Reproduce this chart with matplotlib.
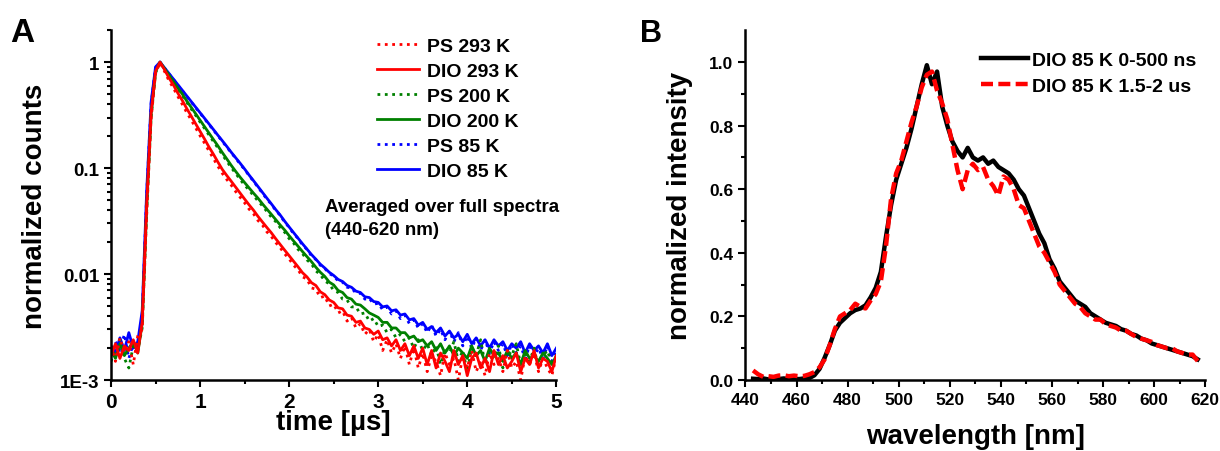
import numpy as np
import matplotlib.pyplot as plt

plt.rcParams['font.family'] = ['Liberation Sans', 'DejaVu Sans']
plt.rcParams['font.weight'] = 'bold'

# ---- panel A: decay traces, sampled every 0.05 us from 0 to 5 us
time_us = np.round(np.arange(0, 5.0001, 0.05), 2)

dio_293 = [0.0017, 0.0022, 0.0016, 0.0021, 0.0019, 0.0024, 0.0018,
           0.0035, 0.045, 0.33, 0.82, 1.0, 0.85, 0.71, 0.61, 0.51, 0.435, 0.365, 0.31, 0.262,
           0.222, 0.188, 0.158, 0.135, 0.114, 0.097, 0.085, 0.075, 0.066, 0.058,
           0.051, 0.045, 0.040, 0.035, 0.031, 0.0275, 0.0245, 0.0215, 0.019, 0.0168,
           0.0149, 0.0132, 0.0117, 0.0103, 0.0094, 0.0083, 0.0078, 0.0068, 0.0064, 0.0057,
           0.0054, 0.0048, 0.0047, 0.0041, 0.0040, 0.0035, 0.0036, 0.0031, 0.0030, 0.0027,
           0.0029, 0.0024, 0.0025, 0.0021, 0.0024, 0.0019, 0.0022, 0.0017, 0.0021, 0.0016,
           0.0020,
           0.0014, 0.0019, 0.0013, 0.0018, 0.0015, 0.0012, 0.0019, 0.0014, 0.0017, 0.0011,
           0.0016, 0.0018, 0.0013, 0.0016, 0.0012, 0.0019, 0.0014, 0.0017, 0.0013, 0.0015,
           0.0018, 0.0012, 0.0016, 0.0014, 0.0019, 0.0013, 0.0016, 0.0015, 0.0012, 0.0017]

ps_293 = [0.0021, 0.0015, 0.0025, 0.0018, 0.0023, 0.0014, 0.0026,
          0.003, 0.035, 0.29, 0.78, 0.99, 0.82, 0.67, 0.57, 0.475, 0.40, 0.335, 0.285, 0.24,
          0.202, 0.172, 0.145, 0.123, 0.104, 0.089, 0.078, 0.069, 0.060, 0.053,
          0.047, 0.041, 0.037, 0.032, 0.029, 0.025, 0.0226, 0.0198, 0.0177, 0.0155,
          0.0139, 0.0121, 0.0110, 0.0094, 0.0090, 0.0074, 0.0072, 0.0060, 0.0062, 0.0050,
          0.0052, 0.0043, 0.0045, 0.0036, 0.0039, 0.0031, 0.0034, 0.0027, 0.0030, 0.0023,
          0.0027, 0.0019, 0.0024, 0.0018, 0.0022, 0.0016, 0.0021, 0.0014, 0.0020, 0.0013,
          0.0018,
          0.0012, 0.0017, 0.0015, 0.0011, 0.0018, 0.0014, 0.0016, 0.0010, 0.0017, 0.0013,
          0.0019, 0.0012, 0.0015, 0.0011, 0.0018, 0.0014, 0.0016, 0.0012, 0.0019, 0.0013,
          0.0015, 0.0010, 0.0017, 0.0014, 0.0018, 0.0012, 0.0016, 0.0013, 0.0011, 0.0017]

dio_200 = [0.0019, 0.0016, 0.0022, 0.0017, 0.0020, 0.0023, 0.0018,
           0.0034, 0.042, 0.32, 0.81, 1.0, 0.87, 0.755, 0.656, 0.57, 0.50, 0.43, 0.375, 0.326,
           0.283, 0.246, 0.214, 0.186, 0.162, 0.140, 0.122, 0.106, 0.093, 0.082,
           0.073, 0.065, 0.058, 0.052, 0.046, 0.041, 0.0366, 0.0326, 0.029, 0.026,
           0.023, 0.0205, 0.0183, 0.0163, 0.0146, 0.0131, 0.0116, 0.0104, 0.0095, 0.0084,
           0.0079, 0.0070, 0.0067, 0.0060, 0.0058, 0.0052, 0.0051, 0.0047, 0.0043, 0.0041,
           0.0039, 0.0035, 0.0035, 0.0031, 0.0031, 0.0028, 0.0028, 0.0025, 0.0026, 0.0023,
           0.0024,
           0.0021, 0.0023, 0.0019, 0.0022, 0.0018, 0.0021, 0.0017, 0.0020, 0.0018, 0.0016,
           0.0021, 0.0017, 0.0019, 0.0015, 0.0020, 0.0017, 0.0018, 0.0015, 0.0019, 0.0016,
           0.0018, 0.0014, 0.0019, 0.0016, 0.0017, 0.0015, 0.0018, 0.0016, 0.0014, 0.0017]

ps_200 = [0.0015, 0.0020, 0.0024, 0.0016, 0.0013, 0.0021, 0.0019,
          0.0031, 0.038, 0.30, 0.79, 0.99, 0.86, 0.74, 0.64, 0.555, 0.485, 0.418, 0.362, 0.315,
          0.272, 0.237, 0.205, 0.178, 0.155, 0.134, 0.116, 0.101, 0.089, 0.078,
          0.069, 0.062, 0.055, 0.049, 0.044, 0.039, 0.0345, 0.0312, 0.0274, 0.0248,
          0.0216, 0.0196, 0.0171, 0.0156, 0.0136, 0.0125, 0.0107, 0.0099, 0.0086, 0.0081,
          0.0070, 0.0067, 0.0058, 0.0057, 0.0049, 0.0049, 0.0042, 0.0043, 0.0036, 0.0038,
          0.0032, 0.0033, 0.0028, 0.0030, 0.0025, 0.0027, 0.0023, 0.0025, 0.0020, 0.0024,
          0.0019,
          0.0022, 0.0017, 0.0021, 0.0014, 0.0020, 0.0018, 0.0023, 0.0015, 0.0019, 0.0012,
          0.0020, 0.0017, 0.0024, 0.0014, 0.0018, 0.0016, 0.0021, 0.0013, 0.0019, 0.0017,
          0.0022, 0.0014, 0.0018, 0.0015, 0.0020, 0.0013, 0.0017, 0.0019, 0.0014, 0.0016]

dio_85 = [0.0021, 0.0018, 0.0025, 0.0019, 0.0028, 0.0020, 0.0023,
          0.0045, 0.06, 0.42, 0.90, 1.0, 0.885, 0.783, 0.693, 0.613, 0.543, 0.480, 0.425, 0.376,
          0.333, 0.295, 0.261, 0.231, 0.204, 0.181, 0.160, 0.141, 0.125, 0.111,
          0.098, 0.086, 0.076, 0.067, 0.059, 0.052, 0.046, 0.0405, 0.036, 0.0315,
          0.0278, 0.0246, 0.0218, 0.0193, 0.0172, 0.0153, 0.0138, 0.0124, 0.0114, 0.0104,
          0.0097, 0.0089, 0.0085, 0.0078, 0.0075, 0.0069, 0.0067, 0.0061, 0.0060, 0.0055,
          0.0054, 0.0049, 0.0050, 0.0045, 0.0046, 0.0041, 0.0042, 0.0037, 0.0038, 0.0033,
          0.0035,
          0.0030, 0.0032, 0.0028, 0.0031, 0.0026, 0.0029, 0.0025, 0.0027, 0.0023, 0.0027,
          0.0022, 0.0025, 0.0021, 0.0024, 0.0020, 0.0024, 0.0021, 0.0023, 0.0019, 0.0022,
          0.0020, 0.0023, 0.0018, 0.0022, 0.0019, 0.0021, 0.0018, 0.0022, 0.0017, 0.0020]

ps_85 = [0.0017, 0.0023, 0.0019, 0.0027, 0.0016, 0.0022, 0.0020,
         0.0040, 0.055, 0.40, 0.88, 1.0, 0.88, 0.775, 0.688, 0.605, 0.538, 0.474, 0.421, 0.371,
         0.330, 0.291, 0.258, 0.228, 0.202, 0.178, 0.158, 0.139, 0.124, 0.109,
         0.097, 0.085, 0.075, 0.066, 0.058, 0.051, 0.0455, 0.0398, 0.0357, 0.0309,
         0.0276, 0.0240, 0.0217, 0.0188, 0.0171, 0.0149, 0.0137, 0.0121, 0.0113, 0.0101,
         0.0096, 0.0086, 0.0084, 0.0075, 0.0074, 0.0066, 0.0066, 0.0058, 0.0059, 0.0052,
         0.0053, 0.0046, 0.0049, 0.0042, 0.0045, 0.0038, 0.0041, 0.0034, 0.0037, 0.0031,
         0.0034,
         0.0028, 0.0033, 0.0026, 0.0030, 0.0024, 0.0029, 0.0023, 0.0028, 0.0021, 0.0026,
         0.0020, 0.0025, 0.0019, 0.0024, 0.0018, 0.0023, 0.0019, 0.0022, 0.0017, 0.0022,
         0.0018, 0.0021, 0.0016, 0.0021, 0.0017, 0.0020, 0.0016, 0.0021, 0.0015, 0.0019]

# ---- panel B: spectra, every 2 nm from 443 to 617 nm
wavelength = np.arange(443, 618, 2)

spec_early = [0.004, 0.003, 0.005, 0.002, 0.004, 0.003, 0.005, 0.003, 0.004, 0.003, 0.005, 0.006,
              0.015, 0.035, 0.07, 0.11, 0.155, 0.18, 0.195, 0.21, 0.22, 0.225,
              0.235, 0.26, 0.29, 0.34, 0.45, 0.55, 0.63, 0.68, 0.73, 0.79,
              0.86, 0.93, 0.99, 0.93, 0.97, 0.86, 0.80, 0.75, 0.72, 0.70,
              0.73, 0.70, 0.69, 0.70, 0.68, 0.69, 0.67, 0.66, 0.65, 0.63,
              0.60, 0.58, 0.54, 0.50, 0.46, 0.43, 0.38, 0.35, 0.31, 0.29,
              0.27, 0.25, 0.24, 0.23, 0.21, 0.20, 0.19, 0.18, 0.175, 0.17,
              0.16, 0.155, 0.145, 0.14, 0.13, 0.125, 0.115, 0.11, 0.105, 0.10,
              0.095, 0.09, 0.085, 0.08, 0.075, 0.065]

spec_late = [0.03, 0.018, 0.01, 0.012, 0.01, 0.014, 0.015, 0.012, 0.014, 0.012, 0.013, 0.018,
             0.025, 0.04, 0.065, 0.11, 0.16, 0.20, 0.21, 0.22, 0.24, 0.23,
             0.225, 0.25, 0.27, 0.31, 0.42, 0.57, 0.65, 0.69, 0.75, 0.81,
             0.86, 0.92, 0.96, 0.97, 0.91, 0.87, 0.82, 0.74, 0.66, 0.60,
             0.66, 0.68, 0.66, 0.67, 0.63, 0.61, 0.58, 0.64, 0.63, 0.60,
             0.55, 0.54, 0.50, 0.46, 0.42, 0.40, 0.37, 0.34, 0.30, 0.28,
             0.26, 0.24, 0.23, 0.21, 0.20, 0.19, 0.19, 0.175, 0.17, 0.165,
             0.155, 0.155, 0.145, 0.135, 0.13, 0.125, 0.12, 0.11, 0.105, 0.10,
             0.10, 0.09, 0.085, 0.08, 0.08, 0.06]

fig = plt.figure(figsize=(12.2, 4.52), dpi=100)
axA = fig.add_axes([0.091, 0.157, 0.365, 0.774])
axB = fig.add_axes([0.611, 0.157, 0.377, 0.774])

traces = [
    (ps_293, 'PS 293 K', 'red', ':'),
    (dio_293, 'DIO 293 K', 'red', '-'),
    (ps_200, 'PS 200 K', 'green', ':'),
    (dio_200, 'DIO 200 K', 'green', '-'),
    (ps_85, 'PS 85 K', 'blue', ':'),
    (dio_85, 'DIO 85 K', 'blue', '-'),
]
# draw the 85 K traces first so red ends up on top, legend keeps the listed order
handles = {}
for vals, label, color, ls in reversed(traces):
    line, = axA.plot(time_us, vals, color=color, ls=ls, lw=2, label=label)
    handles[label] = line
axA.set_yscale('log')
axA.set_xlim(0, 5)
axA.set_ylim(1e-3, 2)
axA.set_yticks([1e-3, 1e-2, 1e-1, 1])
axA.set_yticklabels(['1E-3', '0.01', '0.1', '1'])
axA.set_xticks(range(6))
axA.set_xticks(np.arange(0.5, 5, 1), minor=True)
axA.tick_params(which='both', direction='out', width=1.5)
axA.tick_params(axis='x', labelsize=15)
axA.tick_params(axis='y', labelsize=13.5)
axA.tick_params(which='major', length=5)
axA.tick_params(which='minor', length=3)
axA.set_xlabel('time [µs]', fontsize=20, fontweight='bold', va='center')
axA.set_ylabel('normalized counts', fontsize=20, fontweight='bold', va='center')
axA.xaxis.set_label_coords(0.5, -0.12)
axA.yaxis.set_label_coords(-0.171, 0.5)
axA.legend([handles[t[1]] for t in traces], [t[1] for t in traces],
           loc='upper left', bbox_to_anchor=(0.598, 0.98), frameon=False,
           fontsize=14, handlelength=2.15, handletextpad=0.4, labelspacing=0.38,
           borderpad=0, borderaxespad=0)
axA.text(0.481, 0.52, 'Averaged over full spectra\n(440-620 nm)', transform=axA.transAxes,
         fontsize=13.5, fontweight='bold', va='top', linespacing=1.45)
fig.text(0.008, 0.907, 'A', fontsize=24, fontweight='bold')

axB.plot(wavelength, spec_early, color='black', lw=3.2, label='DIO 85 K 0-500 ns')
axB.plot(wavelength, spec_late, color='red', lw=3.2, ls=(0, (2.7, 1.2)),
         label='DIO 85 K 1.5-2 us')
axB.set_xlim(440, 620)
axB.set_ylim(0, 1.1)
axB.set_xticks(range(440, 621, 20))
axB.set_xticks(range(450, 620, 20), minor=True)
axB.set_yticks(np.arange(0, 1.01, 0.2))
axB.set_yticks(np.arange(0.1, 1.1, 0.2), minor=True)
axB.yaxis.set_major_formatter(plt.FormatStrFormatter('%.1f'))
axB.tick_params(which='both', direction='out', width=1.5, labelsize=12.5)
axB.tick_params(which='major', length=5)
axB.tick_params(which='minor', length=3)
axB.set_xlabel('wavelength [nm]', fontsize=20, fontweight='bold', va='center')
axB.set_ylabel('normalized intensity', fontsize=20, fontweight='bold', va='center')
axB.xaxis.set_label_coords(0.5, -0.16)
axB.yaxis.set_label_coords(-0.143, 0.5)
axB.legend(loc='upper left', bbox_to_anchor=(0.513, 0.94), frameon=False, fontsize=14,
           handlelength=2.4, handletextpad=0.2, labelspacing=0.45,
           borderpad=0, borderaxespad=0)
fig.text(0.5245, 0.907, 'B', fontsize=22, fontweight='bold')

for ax in (axA, axB):
    ax.spines['top'].set_visible(False)
    ax.spines['right'].set_visible(False)
    ax.spines['left'].set_linewidth(1.8)
    ax.spines['bottom'].set_linewidth(1.8)

fig.savefig('out.png', dpi=100)
